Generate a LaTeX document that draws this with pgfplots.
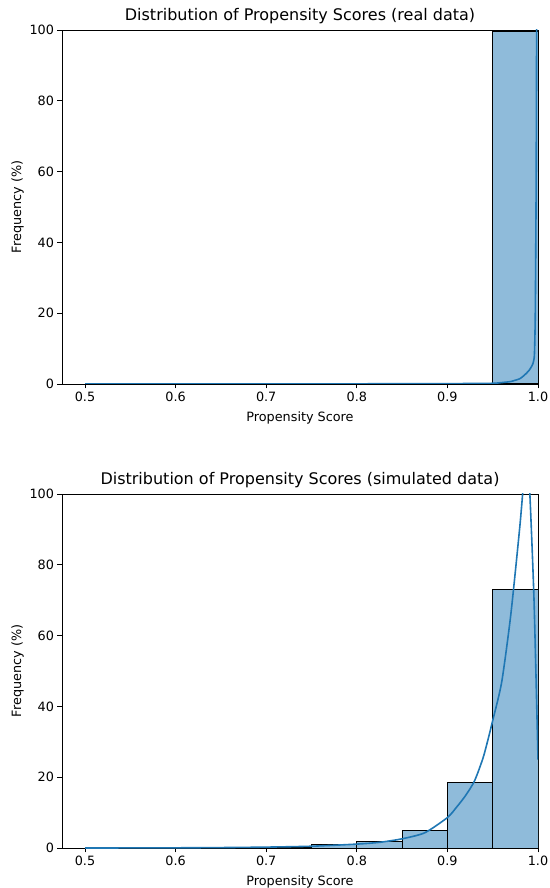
\documentclass[border=0pt]{standalone}
\usepackage{pgfplots}
\pgfplotsset{compat=1.18}
\usepackage{fontspec}
\setmainfont{DejaVu Sans}
\definecolor{mplblue}{RGB}{31,119,180}
\definecolor{barfill}{RGB}{143,187,218}
\pgfplotsset{
  propstyle/.style={
    scale only axis,
    width=476pt, height=354pt,
    xmin=0.4746, xmax=1.0,
    ymin=0, ymax=100,
    xtick={0.5,0.6,0.7,0.8,0.9,1.0},
    ytick={0,20,40,60,80,100},
    xticklabel style={/pgf/number format/fixed,/pgf/number format/fixed zerofill,/pgf/number format/precision=1},
    /pgf/number format/assume math mode=true,
    tick align=outside,
    xtick pos=bottom, ytick pos=left,
    major tick length=4.5pt,
    tick style={black, line width=0.9pt},
    axis line style={black, line width=0.9pt},
    ticklabel style={font=\fontsize{12.8}{14}\selectfont},
    label style={font=\fontsize{12.8}{14}\selectfont},
    title style={font=\fontsize{16}{18}\selectfont, yshift=-3pt},
    xlabel={Propensity Score},
    ylabel={Frequency (\%)},
    xlabel style={yshift=-3pt},
    ylabel style={yshift=-1pt},
    clip=true,
  }
}
\begin{document}
\begin{tikzpicture}
\useasboundingbox (0,0) rectangle (549pt,888pt);
\begin{axis}[propstyle, at={(62pt,504pt)}, anchor=south west,
  title={Distribution of Propensity Scores (real data)}]
\addplot[ybar interval, fill=barfill, draw=black, line width=1pt] coordinates {
  (0.95,99.6) (1.0,99.6)
};
\addplot[mplblue, line width=1.6pt, smooth, tension=0.3] coordinates {
  (0.5,0) (0.6,0.02) (0.7,0.03) (0.75,0.05) (0.8,0.05) (0.9,0.1) (0.95,0.2)
  (0.96,0.4) (0.97,0.7) (0.98,1.5) (0.985,2.5) (0.99,3.8) (0.994,5.5)
  (0.996,8) (0.997,20) (0.998,60) (0.999,150)
};
\end{axis}
\begin{axis}[propstyle, at={(62pt,40pt)}, anchor=south west,
  title={Distribution of Propensity Scores (simulated data)}]
\addplot[ybar interval, fill=barfill, draw=black, line width=1pt] coordinates {
  (0.70,0.2) (0.75,0.9) (0.80,1.8) (0.85,5.0) (0.90,18.6) (0.95,73.0) (1.0,73.0)
};
\addplot[mplblue, line width=1.6pt, smooth, tension=0.4] coordinates {
  (0.5,0.0) (0.55,0.02) (0.6,0.05) (0.65,0.12) (0.7,0.25) (0.75,0.5)
  (0.8,1.1) (0.825,1.6) (0.85,2.6) (0.875,4.3) (0.9,8.6) (0.91,11.5)
  (0.92,14.8) (0.93,19) (0.94,26) (0.95,36) (0.96,47) (0.97,66)
  (0.98,91) (0.985,106) (0.988,112) (0.991,100) (0.9956,70) (1.0,25)
};
\end{axis}
\end{tikzpicture}
\end{document}
